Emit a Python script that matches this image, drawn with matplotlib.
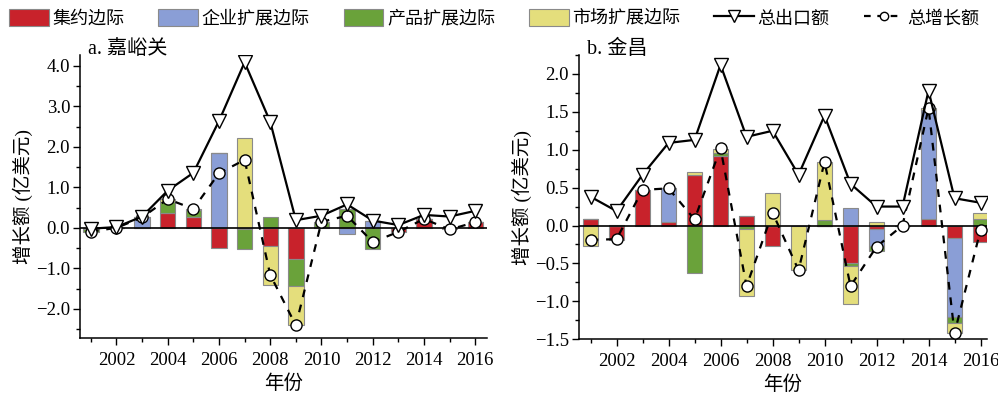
"""Export margin decomposition for 嘉峪关 and 金昌, 2001-2016."""

import matplotlib

matplotlib.use("Agg")

import matplotlib.pyplot as plt
from matplotlib.lines import Line2D
from matplotlib.patches import Patch
from matplotlib.ticker import FuncFormatter, MultipleLocator

plt.rcParams["font.family"] = ["Liberation Serif", "Noto Sans CJK SC"]
plt.rcParams["axes.unicode_minus"] = True

years = list(range(2001, 2017))
margin_names = ["集约边际", "企业扩展边际", "产品扩展边际", "市场扩展边际"]
margin_colors = ["#C8222B", "#8A9ED6", "#6AA23A", "#E4DE7C"]

# 嘉峪关 (亿美元)
jyg_intensive = [-0.02, 0.0, 0.0, 0.36, 0.28, -0.49, -0.03, -0.44, -0.78, 0.03, 0.0, 0.0, -0.10, 0.22, -0.04, 0.14]
jyg_firm = [0.0, 0.0, 0.26, 0.0, 0.0, 1.84, 0.0, 0.0, 0.0, 0.0, -0.16, 0.18, 0.0, 0.0, 0.0, 0.0]
jyg_product = [-0.07, 0.0, 0.0, 0.29, 0.15, 0.0, -0.50, 0.26, -0.65, 0.12, 0.46, -0.53, 0.0, 0.0, 0.0, 0.0]
jyg_market = [0.0, 0.0, 0.0, 0.06, 0.04, 0.0, 2.21, -0.98, -0.98, 0.0, 0.0, 0.0, 0.0, 0.0, 0.0, 0.0]
jyg_export = [-0.02, 0.02, 0.28, 0.92, 1.36, 2.64, 4.09, 2.62, 0.19, 0.30, 0.58, 0.18, 0.07, 0.32, 0.28, 0.42]
jyg_growth = [-0.09, 0.0, 0.26, 0.71, 0.47, 1.35, 1.68, -1.16, -2.41, 0.15, 0.30, -0.35, -0.10, 0.22, -0.04, 0.14]

# 金昌 (亿美元)
jc_intensive = [0.08, -0.19, 0.47, 0.04, 0.67, 0.92, 0.13, -0.27, 0.0, 0.0, -0.49, -0.05, 0.0, 0.09, -0.17, -0.22]
jc_firm = [0.0, 0.0, 0.0, 0.45, 0.0, 0.0, 0.0, 0.0, 0.0, 0.0, 0.23, -0.22, 0.0, 1.43, -1.04, 0.0]
jc_product = [0.0, 0.0, 0.0, 0.0, -0.63, 0.04, -0.05, 0.0, 0.0, 0.07, -0.05, -0.06, 0.0, 0.0, -0.08, 0.08]
jc_market = [-0.27, 0.01, 0.0, 0.0, 0.04, 0.05, -0.88, 0.43, -0.59, 0.77, -0.49, 0.05, 0.0, 0.03, -0.13, 0.09]
jc_export = [0.38, 0.19, 0.67, 1.09, 1.13, 2.12, 1.17, 1.25, 0.67, 1.45, 0.55, 0.25, 0.25, 1.78, 0.36, 0.30]
jc_growth = [-0.19, -0.18, 0.47, 0.49, 0.08, 1.02, -0.80, 0.17, -0.59, 0.84, -0.80, -0.28, 0.0, 1.55, -1.42, -0.06]


def _one_decimal(value, _pos):
    return f"{value:.1f}".replace("-", "\u2212")


def draw_panel(ax, margins, export, growth, title, ylim, xlim, major, minor):
    # positive parts stack upward from zero, negative parts downward
    pos_base = [0.0] * len(years)
    neg_base = [0.0] * len(years)
    for values, color in zip(margins, margin_colors):
        bottoms = []
        for i, v in enumerate(values):
            if v >= 0:
                bottoms.append(pos_base[i])
                pos_base[i] += v
            else:
                bottoms.append(neg_base[i])
                neg_base[i] += v
        ax.bar(years, values, width=0.6, bottom=bottoms, color=color,
               edgecolor="#8a8a8a", linewidth=0.8, zorder=2)

    ax.axhline(0, color="black", linewidth=1.2, zorder=3)
    ax.plot(years, growth, color="black", linestyle=(0, (3.5, 3.5)), linewidth=1.6,
            marker="o", markersize=8, markerfacecolor="white",
            markeredgecolor="black", markeredgewidth=1.0, zorder=4)
    ax.plot(years, export, color="black", linewidth=1.6, marker="v",
            markersize=10, markerfacecolor="white", markeredgecolor="black",
            markeredgewidth=1.0, zorder=5)

    ax.set_xlim(*xlim)
    ax.set_ylim(*ylim)
    ax.xaxis.set_major_locator(MultipleLocator(2))
    ax.xaxis.set_minor_locator(MultipleLocator(1))
    ax.yaxis.set_major_locator(MultipleLocator(major))
    ax.yaxis.set_minor_locator(MultipleLocator(minor))
    ax.yaxis.set_major_formatter(FuncFormatter(_one_decimal))
    ax.tick_params(which="major", direction="out", length=5, width=1,
                   labelsize=13.5, pad=2)
    ax.tick_params(axis="x", which="major", pad=5)
    ax.tick_params(which="minor", direction="out", length=3, width=1)
    for side in ("top", "right"):
        ax.spines[side].set_visible(False)
    for side in ("left", "bottom"):
        ax.spines[side].set_linewidth(1.1)

    ax.set_xlabel("年份", fontsize=14, labelpad=4)
    ax.set_ylabel("增长额 (亿美元)", fontsize=14, labelpad=2)
    ax.text(0.02, 1.02, title, transform=ax.transAxes, fontsize=14.5,
            ha="left", va="center")


fig = plt.figure(figsize=(9.98, 3.93), dpi=100)
ax_a = fig.add_axes([0.080, 0.140, 0.408, 0.720])
ax_b = fig.add_axes([0.580, 0.137, 0.409, 0.723])

draw_panel(ax_a, [jyg_intensive, jyg_firm, jyg_product, jyg_market],
           jyg_export, jyg_growth, "a. 嘉峪关", (-2.72, 4.27),
           (2000.57, 2016.46), 1.0, 0.5)
draw_panel(ax_b, [jc_intensive, jc_firm, jc_product, jc_market],
           jc_export, jc_growth, "b. 金昌", (-1.5, 2.25),
           (2000.55, 2016.25), 0.5, 0.25)

handles = [Patch(facecolor=c, edgecolor="#8a8a8a", linewidth=0.8)
           for c in margin_colors]
handles.append(Line2D([], [], color="black", linewidth=1.6, marker="v",
                      markersize=8, markerfacecolor="white"))
handles.append(Line2D([], [], color="black", linewidth=1.6,
                      linestyle=(0, (3, 3)), marker="o", markersize=6,
                      markerfacecolor="white"))
labels = margin_names + ["总出口额", "总增长额"]
fig.legend(handles, labels, loc="upper left", bbox_to_anchor=(0.0, 1.0, 0.99, 0.0),
           mode="expand", ncol=6, frameon=False, fontsize=13,
           handlelength=2.2, handleheight=1.1, handletextpad=0.2,
           borderaxespad=0.1)

fig.savefig("out.png", dpi=100)
